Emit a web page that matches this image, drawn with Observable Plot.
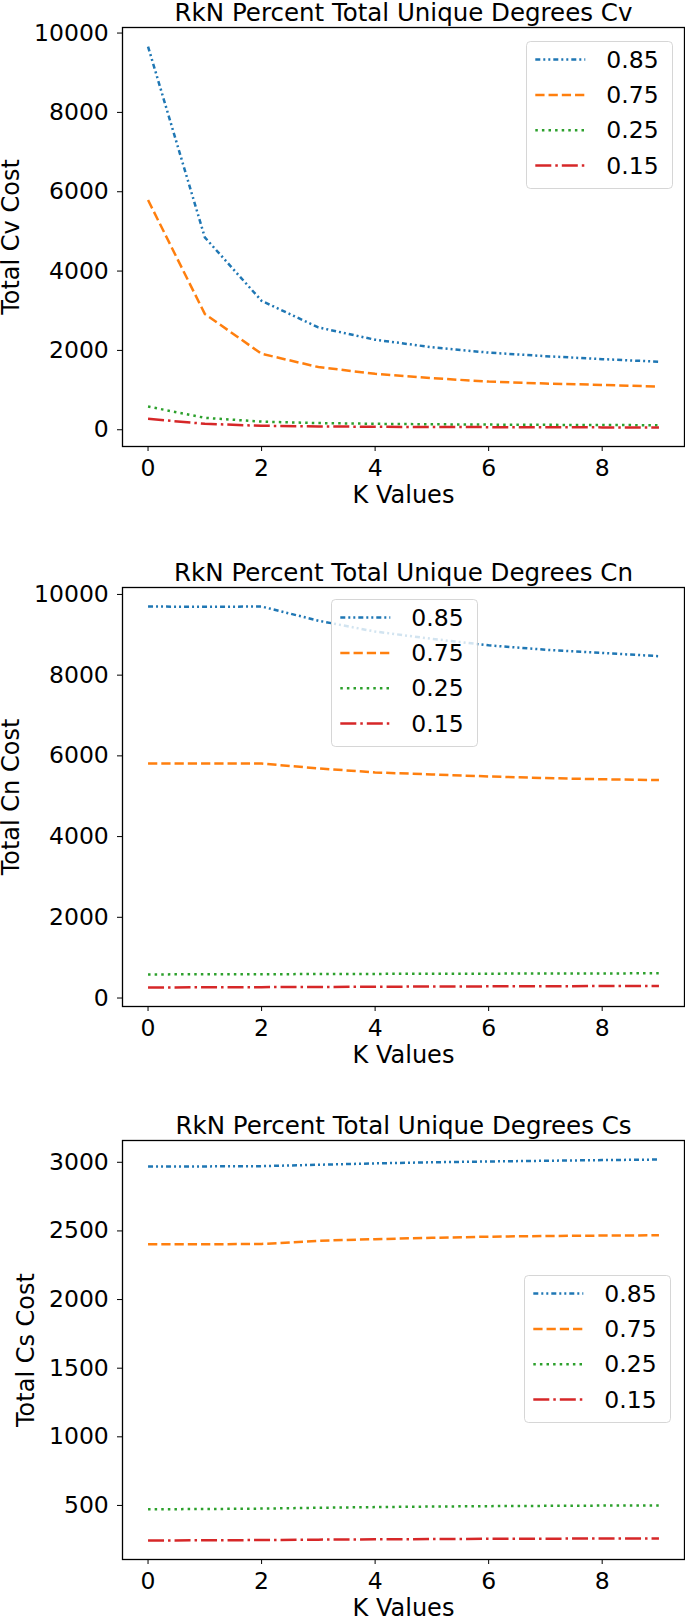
<!DOCTYPE html>
<html>
<head>
<meta charset="utf-8">
<script src="https://cdn.jsdelivr.net/npm/d3@7"></script>
<script src="https://cdn.jsdelivr.net/npm/@observablehq/plot@0.6"></script>
<style>
  html, body { margin: 0; padding: 0; background: #fff; }
  #root { position: relative; width: 685px; height: 1617px; overflow: hidden; font-family: "DejaVu Sans", sans-serif; }
  #root > svg, #root > div { position: absolute; left: 0; }
</style>
</head>
<body>
<div id="root"></div>
<script>
// ---------------- data ----------------
const kValues = [0, 1, 2, 3, 4, 5, 6, 7, 8, 9];
const seriesNames = ["0.85", "0.75", "0.25", "0.15"];

const cv85 = [9660, 4850, 3250, 2580, 2270, 2080, 1945, 1855, 1780, 1715];
const cv75 = [5790, 2920, 1915, 1580, 1410, 1300, 1215, 1165, 1130, 1090];
const cv25 = [585, 300, 205, 168, 150, 138, 130, 124, 119, 115];
const cv15 = [275, 150, 100, 85, 75, 70, 66, 62, 60, 58];

const cn85 = [9700, 9695, 9700, 9350, 9080, 8900, 8740, 8630, 8550, 8470];
const cn75 = [5810, 5810, 5810, 5690, 5590, 5540, 5490, 5450, 5420, 5400];
const cn25 = [585, 588, 590, 594, 598, 601, 604, 607, 610, 612];
const cn15 = [262, 266, 270, 275, 280, 285, 289, 293, 296, 300];

const cs85 = [2970, 2970, 2972, 2982, 2992, 3000, 3006, 3011, 3016, 3020];
const cs75 = [2403, 2403, 2405, 2428, 2440, 2450, 2458, 2463, 2466, 2468];
const cs25 = [472, 474, 477, 483, 488, 492, 495, 497, 499, 500];
const cs15 = [245, 246, 248, 251, 253, 255, 257, 258, 259, 260];

const xTicks = [0, 2, 4, 6, 8];
const yTicksBig = [0, 2000, 4000, 6000, 8000, 10000];
const yTicksCs = [500, 1000, 1500, 2000, 2500, 3000];

const titles = ["RkN Percent Total Unique Degrees Cv", "RkN Percent Total Unique Degrees Cn", "RkN Percent Total Unique Degrees Cs"];
const yLabels = ["Total Cv Cost", "Total Cn Cost", "Total Cs Cost"];
const xLabel = "K Values";

// ---------------- styles ----------------
const colors = ["#1f77b4", "#ff7f0e", "#2ca02c", "#d62728"];
const dashes = ["5,3,2,3,2,3", "9.25,4", "2.5,4.1", "16,4,2.5,4"];
const LW = 2.5;
const FONT = "DejaVu Sans";

const panels = [
  {series: [cv85, cv75, cv25, cv15], yTicks: yTicksBig, top: 0, height: 510, mt: 27, mb: 64, yLabelDx: -104, legend: [525.7, 40.7]},
  {series: [cn85, cn75, cn25, cn15], yTicks: yTicksBig, top: 530, height: 540, mt: 57, mb: 64, yLabelDx: -104, legend: [331, 599]},
  {series: [cs85, cs75, cs25, cs15], yTicks: yTicksCs, top: 1080, height: 537, mt: 60, mb: 58, yLabelDx: -88.7, legend: [524, 1275]}
];

const root = document.getElementById("root");

function padded(lo, hi) {
  const m = (hi - lo) * 0.05;
  return [lo - m, hi + m];
}

panels.forEach((p, pi) => {
  const rows = [];
  p.series.forEach((arr, si) => arr.forEach((v, i) => rows.push({k: kValues[i], v, s: seriesNames[si], si})));
  const xs = d3.extent(kValues);
  const ys = d3.extent(rows, d => d.v);

  const lineMarks = seriesNames.map((name, si) =>
    Plot.line(rows.filter(d => d.si === si), {
      x: "k", y: "v",
      stroke: colors[si], strokeWidth: LW,
      strokeDasharray: dashes[si], strokeLinejoin: "round", strokeLinecap: "butt"
    })
  );

  const chart = Plot.plot({
    width: 685,
    height: p.height,
    marginLeft: 122,
    marginRight: 1,
    marginTop: p.mt,
    marginBottom: p.mb,
    style: {fontFamily: FONT, fontSize: "23.5px", color: "#000", background: "transparent", overflow: "visible"},
    x: {domain: padded(xs[0], xs[1])},
    y: {domain: padded(ys[0], ys[1])},
    marks: [
      ...lineMarks,
      Plot.frame({stroke: "#000", strokeWidth: 1.3}),
      Plot.axisX({ticks: xTicks, tickSize: 5, tickPadding: 7.5, label: null, tickFormat: d => String(d)}),
      Plot.axisY({ticks: p.yTicks, tickSize: 5, tickPadding: 8.7, label: null, tickFormat: d => String(d)}),
      Plot.text([titles[pi]], {text: d => d, frameAnchor: "top", dy: -6.7, lineAnchor: "bottom", fontSize: 24.5}),
      Plot.text([yLabels[pi]], {text: d => d, frameAnchor: "left", rotate: -90, dx: p.yLabelDx, lineAnchor: "bottom", textAnchor: "middle", fontSize: 24}),
      Plot.text([xLabel], {text: d => d, frameAnchor: "bottom", dy: 48.5, lineAnchor: "middle", fontSize: 24})
    ]
  });
  chart.style.position = "absolute";
  chart.style.top = p.top + "px";
  chart.style.left = "0px";
  root.appendChild(chart);

  // legend (matplotlib-style box)
  const [lx, ly] = p.legend;
  const lg = d3.select(root).append("svg")
    .attr("width", 148).attr("height", 149)
    .style("position", "absolute").style("left", lx + "px").style("top", ly + "px")
    .style("overflow", "visible");
  lg.append("rect")
    .attr("x", 0.5).attr("y", 0.5).attr("width", 146).attr("height", 147).attr("rx", 4)
    .attr("fill", "white").attr("fill-opacity", 0.8)
    .attr("stroke", "#cccccc").attr("stroke-opacity", 0.8).attr("stroke-width", 1);
  seriesNames.forEach((name, si) => {
    const cy = 18.6 + si * 35.3;
    lg.append("line")
      .attr("x1", 9.3).attr("x2", 59.3).attr("y1", cy).attr("y2", cy)
      .attr("stroke", colors[si]).attr("stroke-width", LW)
      .attr("stroke-dasharray", dashes[si]).attr("stroke-linecap", "butt");
    lg.append("text")
      .attr("x", 80.3).attr("y", cy).attr("dy", "0.35em")
      .attr("font-family", FONT).attr("font-size", 23.5).attr("fill", "#000")
      .text(name);
  });
});
</script>
</body>
</html>
